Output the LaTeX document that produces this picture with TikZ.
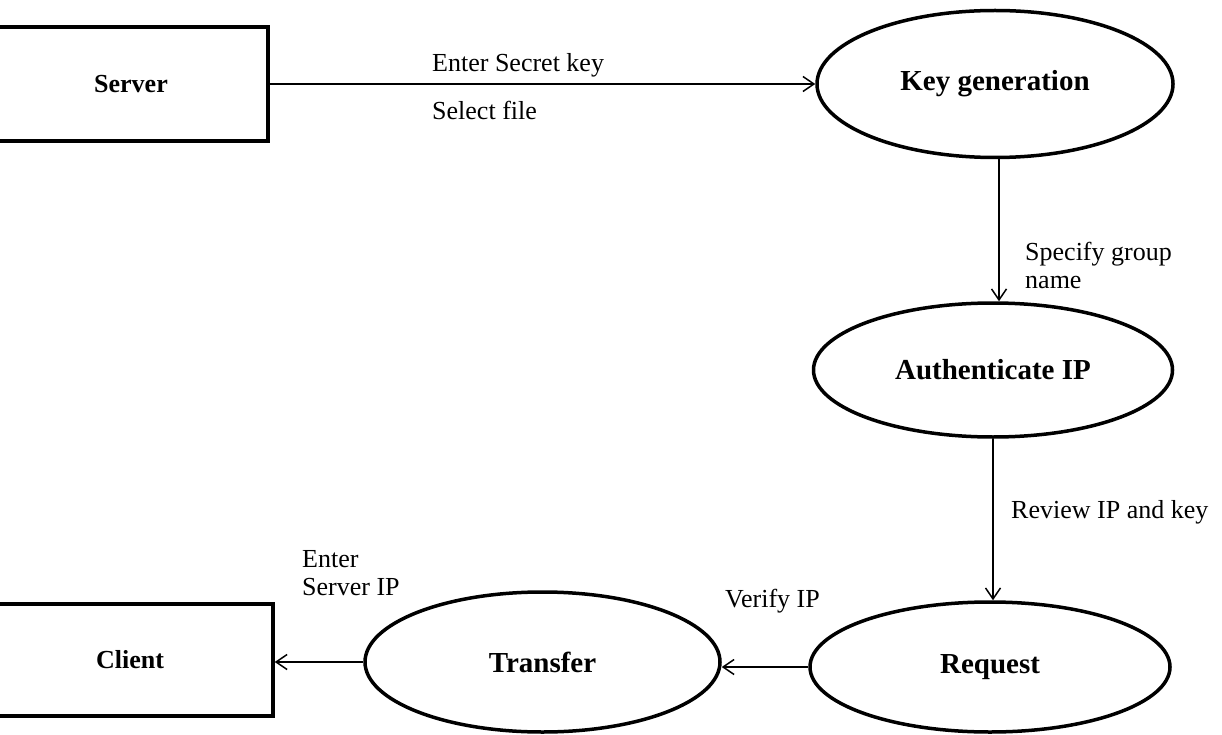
\documentclass[tikz,border=0pt]{standalone}
\usepackage{fontspec}
\setmainfont{Liberation Serif}
\usetikzlibrary{shapes.geometric,arrows.meta}

\tikzset{
  boxnode/.style={draw, line width=3.5pt, rectangle, inner sep=0pt,
    font=\fontsize{26}{30}\selectfont\bfseries},
  procnode/.style={draw, line width=3.5pt, ellipse, inner sep=0pt,
    font=\fontsize{29}{34}\selectfont\bfseries},
  flow/.style={line width=1.5pt, -{Straight Barb[length=11pt,width=15pt,line width=1.5pt]}},
  lbl/.style={inner sep=0pt, anchor=base west, align=left,
    font=\fontsize{26}{28}\selectfont}
}

\begin{document}
\begin{tikzpicture}[x=1pt,y=-1pt]
  \useasboundingbox (0,0) rectangle (1222,735);
  \clip (0,0) rectangle (1222,735);
  \fill[white] (0,0) rectangle (1222,735);

  % external entities
  \node[boxnode, minimum width=274pt, minimum height=114pt] (server) at (131,84) {};
  \node[font=\fontsize{26}{30}\selectfont\bfseries] (servertxt) at (131,84) {Server};
  \node[boxnode, minimum width=279pt, minimum height=112pt] (client) at (133.5,660) {};
  \node[font=\fontsize{26}{30}\selectfont\bfseries] (clienttxt) at (130,660) {Client};

  % processes
  \node[procnode, minimum width=356pt, minimum height=147pt] (keygen) at (995,84) {Key generation};
  \node[procnode, minimum width=359pt, minimum height=134pt] (auth) at (993,370) {Authenticate IP};
  \node[procnode, minimum width=360pt, minimum height=130pt] (request) at (990,667) {Request};
  \node[procnode, minimum width=355pt, minimum height=140pt] (transfer) at (542.5,662) {Transfer};

  % data flows
  \draw[flow] (server.east) -- (server.east -| keygen.west);
  \coordinate (kgout) at ([xshift=4pt]keygen.south);
  \draw[flow] (kgout) -- (kgout |- auth.north);
  \draw[flow] (auth.south) -- (auth.south |- request.north);
  \draw[flow] (request.west) -- (request.west -| transfer.east);
  \draw[flow] (transfer.west) -- (transfer.west -| client.east);

  % flow labels (multi-line labels are anchored on their last line)
  \node[lbl] (l1) at (432,72) {Enter Secret key};
  \node[lbl] (l2) at (432,120) {Select file};
  \node[lbl] (l3) at (1025,288) {Specify group\\name};
  \node[lbl] (l4) at (1011,518) {Review IP and key};
  \node[lbl] (l5) at (725,607) {Verify IP};
  \node[lbl] (l6) at (302,595) {Enter\\Server IP};
\end{tikzpicture}
\end{document}
